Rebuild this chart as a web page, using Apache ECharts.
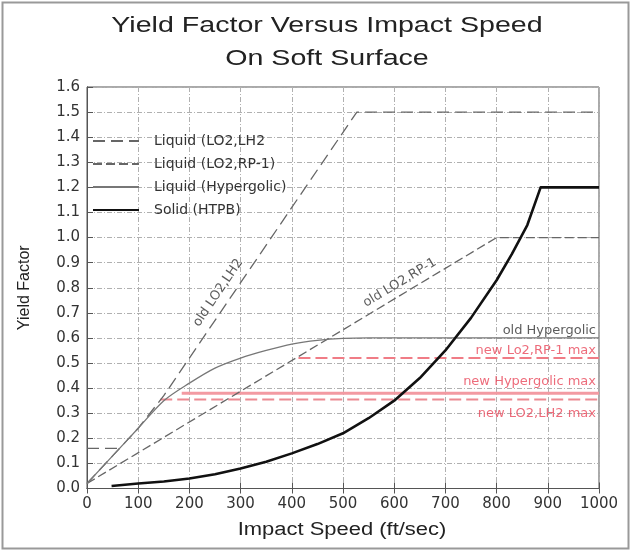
<!DOCTYPE html>
<html><head><meta charset="utf-8">
<script src="https://cdn.jsdelivr.net/npm/echarts@6/dist/echarts.min.js"></script>
<style>html,body{margin:0;padding:0;background:#fff}#c{width:632px;height:552px}</style>
</head><body><div id="c"></div>
<script>
// ---- data ----
const titleLines = ['Yield Factor Versus Impact Speed', 'On Soft Surface'];
const xAxisName = 'Impact Speed (ft/sec)';
const yAxisName = 'Yield Factor';
const xTicks = [0,100,200,300,400,500,600,700,800,900,1000];
const yTicks = [0.0,0.1,0.2,0.3,0.4,0.5,0.6,0.7,0.8,0.9,1.0,1.1,1.2,1.3,1.4,1.5,1.6];

const lo2lh2X = [0, 50, 100, 150, 200, 300, 400, 527, 1000];
const lo2lh2Y = [0.02, 0.13, 0.24, 0.37, 0.52, 0.82, 1.12, 1.5, 1.5];

const rp1X = [0, 800, 1000];
const rp1Y = [0.02, 1.0, 1.0];

const hypX = [0, 50, 100, 150, 200, 250, 300, 350, 400, 450, 500, 550, 1000];
const hypY = [0.02, 0.13, 0.24, 0.35, 0.42, 0.48, 0.52, 0.55, 0.575, 0.59, 0.598, 0.6, 0.6];

const htpbX = [48, 100, 150, 200, 250, 300, 350, 400, 450, 500, 550, 600, 650, 700, 750, 800, 830, 860, 886, 1000];
const htpbY = [0.01, 0.02, 0.028, 0.04, 0.057, 0.08, 0.107, 0.14, 0.177, 0.22, 0.28, 0.35, 0.44, 0.55, 0.68, 0.83, 0.935, 1.05, 1.2, 1.2];

const stubX = [0, 70];
const stubY = [0.16, 0.16];

const rp1MaxX = [413, 1000];
const rp1MaxY = [0.52, 0.52];
const hypMaxX = [185, 1000];
const hypMaxY = [0.38, 0.38];
const lh2MaxX = [143, 1000];
const lh2MaxY = [0.355, 0.355];

const annX = [1000, 1000, 1000, 1000, 256, 611];
const annY = [0.63, 0.548, 0.425, 0.30, 0.78, 0.82];
const annText = ['old Hypergolic', 'new Lo2,RP-1 max', 'new Hypergolic max', 'new LO2,LH2 max', 'old LO2,LH2', 'old LO2,RP-1'];

const seriesNames = ['Liquid (LO2,LH2', 'Liquid (LO2,RP-1)', 'Liquid (Hypergolic)', 'Solid (HTPB)'];

// ---- build ----
const zip = (xs, ys) => xs.map((x, i) => [x, ys[i]]);
const FONT = 'Liberation Sans, Arial, sans-serif';
const WFONT = 'DejaVu Sans, Verdana, sans-serif';
const RED = '#e8475a';

const annStyles = [
  {color: '#333', align: 'right', rotate: 0},
  {color: RED, align: 'right', rotate: 0},
  {color: RED, align: 'right', rotate: 0},
  {color: RED, align: 'right', rotate: 0},
  {color: '#333', align: 'center', rotate: 56},
  {color: '#333', align: 'center', rotate: 31}
];

const annData = annX.map((x, i) => ({
  value: [x, annY[i]],
  label: {
    show: true, position: 'inside', formatter: annText[i],
    color: annStyles[i].color, align: annStyles[i].align, rotate: annStyles[i].rotate,
    offset: annStyles[i].align === 'right' ? [-3, 0] : [0, 0],
    fontSize: 13, fontFamily: WFONT
  }
}));

const chart = echarts.init(document.getElementById('c'), null, {renderer: 'canvas'});
const option = {
  backgroundColor: '#fff',
  animation: false,
  textStyle: {fontFamily: FONT},
  graphic: [
    {type: 'rect', shape: {x: 2.5, y: 2.5, width: 626, height: 546},
     style: {fill: 'none', stroke: '#999', lineWidth: 2}, silent: true, z: -1},
    {type: 'text', x: 327, y: 26, scaleX: 1.3, silent: true,
     style: {text: titleLines[0], fontSize: 22, fontFamily: FONT, fill: '#222', align: 'center', verticalAlign: 'middle'}},
    {type: 'text', x: 327, y: 59, scaleX: 1.3, silent: true,
     style: {text: titleLines[1], fontSize: 22, fontFamily: FONT, fill: '#222', align: 'center', verticalAlign: 'middle'}},
    {type: 'text', x: 342, y: 530, scaleX: 1.22, silent: true,
     style: {text: xAxisName, fontSize: 18, fontFamily: FONT, fill: '#222', align: 'center', verticalAlign: 'middle'}}
  ],
  legend: {
    orient: 'vertical', left: 87, top: 129, itemWidth: 46, itemHeight: 12, itemGap: 9,
    data: seriesNames,
    itemStyle: {opacity: 0},
    textStyle: {fontSize: 14, color: '#333', fontFamily: WFONT, padding: [0, 0, 0, 10]}
  },
  grid: {left: 87, right: 33, top: 87, bottom: 63.5, show: true, borderColor: '#555', borderWidth: 1},
  xAxis: [{
    type: 'value', min: xTicks[0], max: xTicks[xTicks.length - 1], interval: 100,
    axisLine: {show: true, lineStyle: {color: '#555'}},
    axisTick: {show: true, inside: true, length: 6, lineStyle: {color: '#555'}},
    axisLabel: {fontSize: 15, color: '#333', margin: 8, fontFamily: WFONT, formatter: v => String(v)},
    splitLine: {show: true, lineStyle: {color: '#b0b0b0', type: [5, 2, 1, 2], width: 1}}
  }, {
    type: 'value', position: 'top', min: xTicks[0], max: xTicks[xTicks.length - 1], interval: 100,
    axisLine: {show: true, lineStyle: {color: '#555'}},
    axisTick: {show: true, inside: true, length: 5, lineStyle: {color: '#555'}},
    axisLabel: {show: false}, splitLine: {show: false}
  }],
  yAxis: [{
    type: 'value', min: yTicks[0], max: yTicks[yTicks.length - 1], interval: 0.1,
    name: yAxisName, nameLocation: 'middle', nameGap: 54, nameRotate: 90,
    nameTextStyle: {fontSize: 16, color: '#222', fontFamily: FONT},
    axisLine: {show: true, lineStyle: {color: '#555'}},
    axisTick: {show: true, inside: true, length: 6, lineStyle: {color: '#555'}},
    axisLabel: {fontSize: 15, color: '#333', margin: 7, fontFamily: WFONT, formatter: v => v.toFixed(1)},
    splitLine: {show: true, lineStyle: {color: '#b0b0b0', type: [5, 2, 1, 2], width: 1}}
  }, {
    type: 'value', position: 'right', min: yTicks[0], max: yTicks[yTicks.length - 1], interval: 0.1,
    axisLine: {show: true, lineStyle: {color: '#555'}},
    axisTick: {show: false}, axisLabel: {show: false}, splitLine: {show: false}
  }],
  series: [
    {name: seriesNames[0], type: 'line', data: zip(lo2lh2X, lo2lh2Y), symbol: 'none', showSymbol: false, z: 3,
     lineStyle: {color: '#666', width: 1.3, type: [12, 6]}, itemStyle: {color: '#666'}},
    {name: seriesNames[1], type: 'line', data: zip(rp1X, rp1Y), symbol: 'none', showSymbol: false, z: 3,
     lineStyle: {color: '#666', width: 1.3, type: [9, 4]}, itemStyle: {color: '#666'}},
    {name: seriesNames[2], type: 'line', data: zip(hypX, hypY), symbol: 'none', showSymbol: false, smooth: 0.3, z: 3,
     lineStyle: {color: '#777', width: 1.3}, itemStyle: {color: '#777'}},
    {name: seriesNames[3], type: 'line', data: zip(htpbX, htpbY), symbol: 'none', showSymbol: false, z: 4,
     lineStyle: {color: '#111', width: 2.6, join: 'round'}, itemStyle: {color: '#111'}},
    {name: 'stub', type: 'line', data: zip(stubX, stubY), symbol: 'none', z: 3,
     lineStyle: {color: '#666', width: 1.2, type: [12, 6]}},
    {name: 'rp1max', type: 'line', data: zip(rp1MaxX, rp1MaxY), symbol: 'none', z: 2,
     lineStyle: {color: '#f07c86', width: 2, type: [12, 5]}},
    {name: 'hypmax', type: 'line', data: zip(hypMaxX, hypMaxY), symbol: 'none', z: 2,
     lineStyle: {color: '#f39aa2', width: 3}},
    {name: 'lh2max', type: 'line', data: zip(lh2MaxX, lh2MaxY), symbol: 'none', z: 2,
     lineStyle: {color: '#ec8a92', width: 2, type: [12, 5]}},
    {name: 'labels', type: 'scatter', data: annData, symbolSize: 0, z: 5, silent: true}
  ]
};
chart.setOption(option);
</script>
</body></html>
